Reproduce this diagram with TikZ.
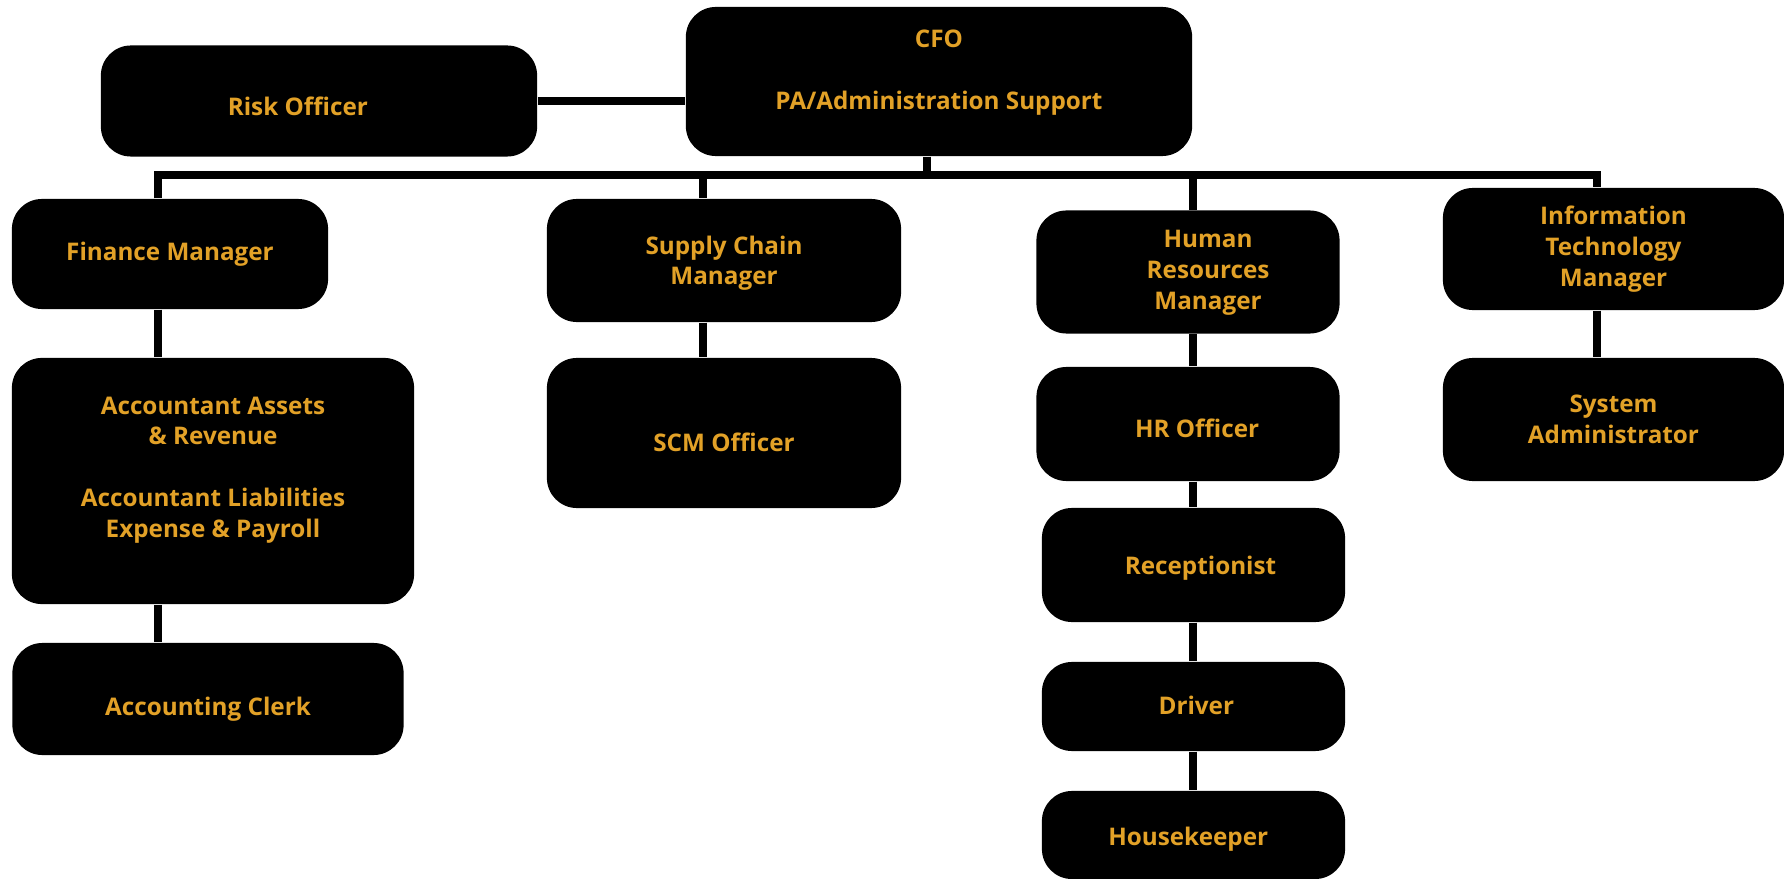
\documentclass[tikz,border=0pt]{standalone}
\usepackage{fontspec}
\setmainfont{Open Sans}
\definecolor{gold}{RGB}{226,161,39}
% shift the text inside a box without moving the box
\newcommand{\nudge}[3]{\raisebox{#2}[\height][\depth]{\kern#1\begin{tabular}{@{}c@{}}#3\end{tabular}\kern-#1}}
\begin{document}
\begin{tikzpicture}[x=0.01cm, y=-0.01cm,
    post/.style={fill=black, rounded corners=0.3cm, inner sep=0pt, text=gold,
      font=\fontsize{6.9}{8.8}\selectfont\bfseries, align=center},
    link/.style={line width=2.3pt}]

  \useasboundingbox (0,0) rectangle (1784,879);

  % top row
  \node[post, minimum width=5.06cm, minimum height=1.49cm] (cfo) at (939,81.5)
    {\nudge{0pt}{2.5pt}{CFO\\ \\PA/Administration Support}};
  \node[post, minimum width=4.36cm, minimum height=1.11cm] (risk) at (319,101)
    {\nudge{-6pt}{-2.3pt}{Risk Officer}};

  % managers
  \node[post, minimum width=3.16cm, minimum height=1.10cm] (fin) at (170,254) {Finance Manager};
  \node[post, minimum width=3.54cm, minimum height=1.23cm] (sc) at (724,260.5)
    {\nudge{0pt}{-0.8pt}{Supply Chain\\Manager}};
  \node[post, minimum width=3.03cm, minimum height=1.23cm] (hr) at (1188,272)
    {\nudge{5.7pt}{0pt}{Human\\Resources\\Manager}};
  \node[post, minimum width=3.41cm, minimum height=1.22cm] (it) at (1613.5,249) {Information\\Technology\\Manager};

  % finance column
  \node[post, minimum width=4.02cm, minimum height=2.46cm] (acc) at (213,481)
    {\nudge{0pt}{3.2pt}{Accountant Assets\\\& Revenue\\ \\Accountant Liabilities\\Expense \& Payroll}};
  \node[post, minimum width=3.91cm, minimum height=1.12cm] (clerk) at (208,699)
    {\nudge{0pt}{-2.9pt}{Accounting Clerk}};

  % supply chain column
  \node[post, minimum width=3.54cm, minimum height=1.50cm] (scm) at (724,433)
    {\nudge{0pt}{-3.6pt}{SCM Officer}};

  % hr column
  \node[post, minimum width=3.03cm, minimum height=1.14cm] (hro) at (1188,424)
    {\nudge{2.6pt}{-2pt}{HR Officer}};
  \node[post, minimum width=3.03cm, minimum height=1.14cm] (rec) at (1193.5,565)
    {\nudge{2pt}{-1pt}{Receptionist}};
  \node[post, minimum width=3.03cm, minimum height=0.89cm] (drv) at (1193.5,706.5)
    {\nudge{0.8pt}{-0.6pt}{Driver}};
  \node[post, minimum width=3.03cm, minimum height=0.88cm] (hk) at (1193.5,835)
    {\nudge{-1.5pt}{-1.2pt}{Housekeeper}};

  % it column
  \node[post, minimum width=3.41cm, minimum height=1.23cm] (sys) at (1613.5,419.5) {System\\Administrator};

  % bus
  \coordinate (bfin) at (158,175);
  \coordinate (bsc) at (703,175);
  \coordinate (bcfo) at (927,175);
  \coordinate (bhr) at (1193,175);
  \coordinate (bit) at (1597,175);

  \draw[link] (risk.east) -- (risk.east -| cfo.west);
  \draw[link] (bcfo |- cfo.south) -- (bcfo);
  \draw[link] (bfin |- fin.north) -- (bfin) -- (bit) -- (bit |- it.north);
  \draw[link] (bsc) -- (bsc |- sc.north);
  \draw[link] (bhr) -- (bhr |- hr.north);

  \draw[link] (bfin |- fin.south) -- (bfin |- acc.north);
  \draw[link] (bfin |- acc.south) -- (bfin |- clerk.north);
  \draw[link] (bsc |- sc.south) -- (bsc |- scm.north);
  \draw[link] (bhr |- hr.south) -- (bhr |- hro.north);
  \draw[link] (bhr |- hro.south) -- (bhr |- rec.north);
  \draw[link] (bhr |- rec.south) -- (bhr |- drv.north);
  \draw[link] (bhr |- drv.south) -- (bhr |- hk.north);
  \draw[link] (bit |- it.south) -- (bit |- sys.north);
\end{tikzpicture}
\end{document}
